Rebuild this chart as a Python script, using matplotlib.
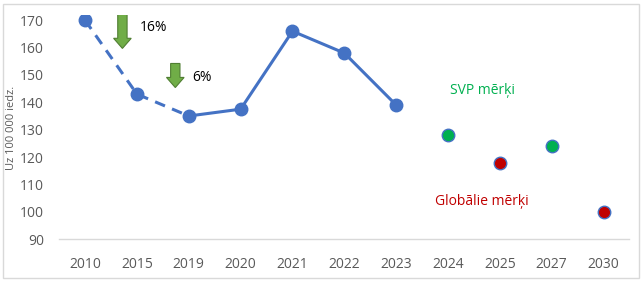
import matplotlib
matplotlib.use("Agg")
import matplotlib.pyplot as plt
from matplotlib.patches import FancyArrow, Rectangle

plt.rcParams['font.family'] = ['Open Sans', 'DejaVu Sans']

years = ["2010", "2015", "2019", "2020", "2021", "2022", "2023", "2024", "2025", "2027", "2030"]
actual = [170, 143, 135, 137.5, 166, 158, 139]
svp_years = ["2024", "2027"]
svp_values = [128, 124]
global_years = ["2025", "2030"]
global_values = [118, 100]
drops = ["16%", "6%"]

blue = "#4472C4"
green = "#00B050"
red = "#C00000"
grey = "#595959"

fig = plt.figure(figsize=(6.43, 2.84), dpi=100)
ax = fig.add_axes([0.092, 0.158, 0.887, 0.79])

pos = {y: i for i, y in enumerate(years)}
x_act = [pos[y] for y in years[:len(actual)]]

# dashed part 2010-2019, solid afterwards
ax.plot(x_act[:3], actual[:3], ls=(0, (3.5, 2.5)), color=blue, lw=2.2, zorder=2)
ax.plot(x_act[2:], actual[2:], ls="-", color=blue, lw=2.2, zorder=2)
ax.plot(x_act, actual, "o", color=blue, ms=9, zorder=3)

ax.plot([pos[y] for y in svp_years], svp_values, "o", mfc=green, mec=blue,
        mew=1, ms=9, ls="none", zorder=3)
ax.plot([pos[y] for y in global_years], global_values, "o", mfc=red, mec=blue,
        mew=1, ms=9, ls="none", zorder=3)

# green down arrows with percentages
for xa, ytop, ybot, lab, ty in [(0.72, 172.3, 159.7, drops[0], 167.4),
                                (1.74, 154.2, 145.4, drops[1], 149.2)]:
    ax.add_patch(FancyArrow(xa, ytop, 0, ybot - ytop, width=0.18, head_width=0.34,
                            head_length=3.7, length_includes_head=True,
                            fc="#70AD47", ec="#507E32", lw=0.8, zorder=4))
    ax.text(xa + 0.33, ty, lab, fontsize=10, color="black", va="center", ha="left")

ax.text(7.66, 144.3, "SVP mērķi", color=green, fontsize=10, ha="center", va="center")
ax.text(7.66, 103.6, "Globālie mērķi", color=red, fontsize=10, ha="center", va="center")

ax.set_xlim(-0.5, len(years) - 0.5)
ax.set_ylim(90, 172)
ax.set_yticks(range(90, 171, 10))
ax.set_xticks(range(len(years)))
ax.set_xticklabels(years)
ax.tick_params(length=0, labelsize=10, colors=grey)
ax.tick_params(axis="x", pad=13)
ax.tick_params(axis="y", pad=11)
for s in ["top", "right", "left"]:
    ax.spines[s].set_visible(False)
ax.spines["bottom"].set_color("#D9D9D9")
ax.spines["bottom"].set_linewidth(1)

fig.text(0.018, 0.55, "Uz 100 000 iedz.", rotation=90, fontsize=8,
         color=grey, ha="center", va="center")

fig.patches.append(Rectangle((0.005, 0.02), 0.989, 0.965, transform=fig.transFigure,
                             fill=False, ec="#D9D9D9", lw=1))

fig.savefig("out.png", dpi=100)
